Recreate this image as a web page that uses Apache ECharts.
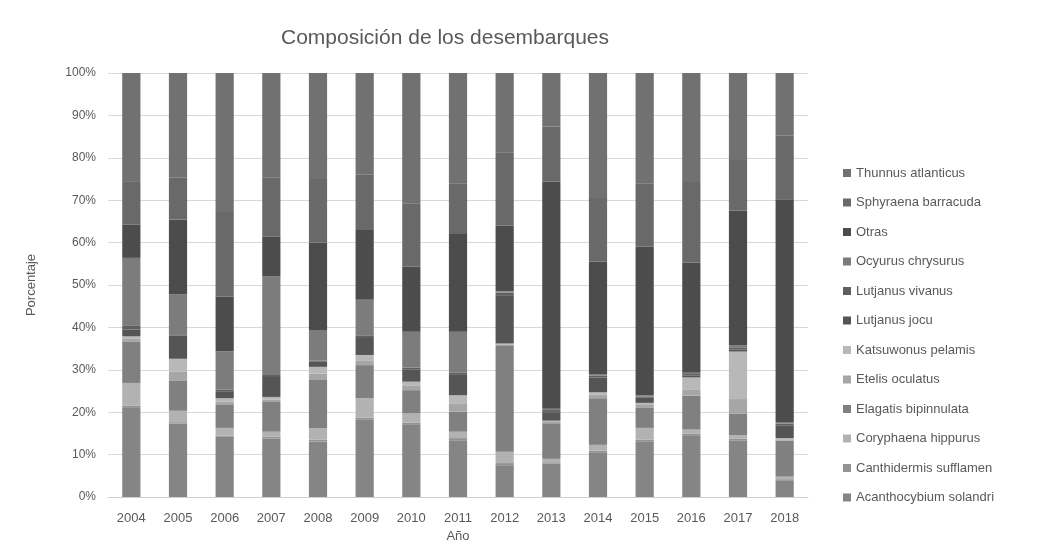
<!DOCTYPE html>
<html><head><meta charset="utf-8">
<script src="https://cdn.jsdelivr.net/npm/echarts@6/dist/echarts.min.js"></script>
<style>html,body{margin:0;padding:0;background:#fff}#c{width:1059px;height:559px}</style>
</head><body><div id="c"></div>
<script>
const years = ['2004','2005','2006','2007','2008','2009','2010','2011','2012','2013','2014','2015','2016','2017','2018'];
const yTicks = ['0%','10%','20%','30%','40%','50%','60%','70%','80%','90%','100%'];
// stacked bottom -> top
const acanthocybium = [21,17.4,14.2,13.8,13.1,18.2,17,13.4,7.5,7.9,10.4,13,14.4,13.3,3.8];
const canthidermis  = [0.5,0.3,0.3,0.4,0.4,0.5,0.5,0.5,0.5,0.3,0.5,0.5,0.5,0.5,0.4];
const coryphaena    = [5.4,2.7,1.8,1.2,2.7,4.6,2.2,1.5,2.7,0.8,1.4,2.8,1,0.8,0.6];
const elagatis      = [9.8,7.2,5.4,7,11.4,7.8,5.5,4.7,25.1,8.4,11,4.7,8,5,8.5];
const etelis        = [0.6,2,0.8,0.6,1.5,1,1,2,0.2,0.3,0.8,0.7,1.5,3.5,0.3];
const katsuwonus    = [0.6,3.1,0.8,0.6,1.6,1.4,1,1.9,0.2,0.3,0.6,0.5,2.8,11.2,0.3];
const lutjanusJocu  = [1.6,5.5,1.5,4.7,1.2,4,2.8,4.8,11.4,2,3.5,1.2,0.5,0.5,2.9];
const lutjanusViv   = [1,0.3,0.5,0.5,0.3,0.5,0.5,0.5,0.6,0.5,0.4,0.3,0.3,0.5,0.5];
const ocyurus       = [15.9,9.4,9,23.2,7.2,8.5,8.5,9.7,0.3,0.3,0.4,0.3,0.3,0.5,0.4];
const otras         = [7.9,17.7,12.9,9.4,20.6,16.5,15.3,23,15.5,53.6,26.5,35,26,31.7,52.5];
const sphyraena     = [10.2,10,20,14,15,13,15,12,17.3,13,15,15,19,12,15];
const thunnus       = [25.5,24.7,32.8,24.6,25,24,30.7,26,18.7,12.6,29.5,26,25.7,20.5,14.8];

const seriesNames = ['Acanthocybium solandri','Canthidermis sufflamen','Coryphaena hippurus','Elagatis bipinnulata','Etelis oculatus','Katsuwonus pelamis','Lutjanus jocu','Lutjanus vivanus','Ocyurus chrysurus','Otras','Sphyraena barracuda','Thunnus atlanticus'];
const seriesValues = [acanthocybium,canthidermis,coryphaena,elagatis,etelis,katsuwonus,lutjanusJocu,lutjanusViv,ocyurus,otras,sphyraena,thunnus];
const colors = ['#858585','#939393','#b2b2b2','#808080','#a6a6a6','#b8b8b8','#555555','#5f5f5f','#7c7c7c','#4c4c4c','#696969','#717171'];

const totals = years.map((_, i) => seriesValues.reduce((s, arr) => s + arr[i], 0));
const font = 'Liberation Sans, Arial, sans-serif';

const chart = echarts.init(document.getElementById('c'), null, {renderer: 'canvas'});
chart.setOption({
  animation: false,
  backgroundColor: '#fff',
  title: {
    text: 'Composición de los desembarques',
    left: 440, top: 23, textAlign: 'center',
    textStyle: {fontFamily: font, fontSize: 21, fontWeight: 'normal', color: '#595959'}
  },
  grid: {left: 108, right: 251, top: 73, bottom: 62},
  legend: {
    orient: 'vertical', left: 838, top: 161,
    itemWidth: 8, itemHeight: 8, itemGap: 15.5,
    icon: 'rect',
    data: seriesNames.slice().reverse(),
    textStyle: {fontFamily: font, fontSize: 13, color: '#595959', lineHeight: 14}
  },
  xAxis: {
    type: 'category', data: years,
    name: 'Año', nameLocation: 'middle', nameGap: 30,
    nameTextStyle: {fontFamily: font, fontSize: 13, color: '#595959'},
    axisTick: {show: false},
    axisLine: {lineStyle: {color: '#d0d0d0'}},
    axisLabel: {fontFamily: font, fontSize: 13, color: '#595959', margin: 15}
  },
  yAxis: {
    type: 'value', min: 0, max: 100, interval: 10,
    name: 'Porcentaje', nameLocation: 'middle', nameGap: 70, nameRotate: 90,
    nameTextStyle: {fontFamily: font, fontSize: 13, color: '#595959'},
    axisLine: {show: false}, axisTick: {show: false},
    splitLine: {lineStyle: {color: '#d9d9d9'}},
    axisLabel: {fontFamily: font, fontSize: 12, color: '#595959', margin: 12,
      formatter: v => yTicks[Math.round(v / 10)]}
  },
  series: seriesNames.map((name, k) => ({
    name, type: 'bar', stack: 'total', barWidth: '39%',
    itemStyle: {color: colors[k]},
    data: seriesValues[k].map((v, i) => v / totals[i] * 100)
  }))
});
</script></body></html>
